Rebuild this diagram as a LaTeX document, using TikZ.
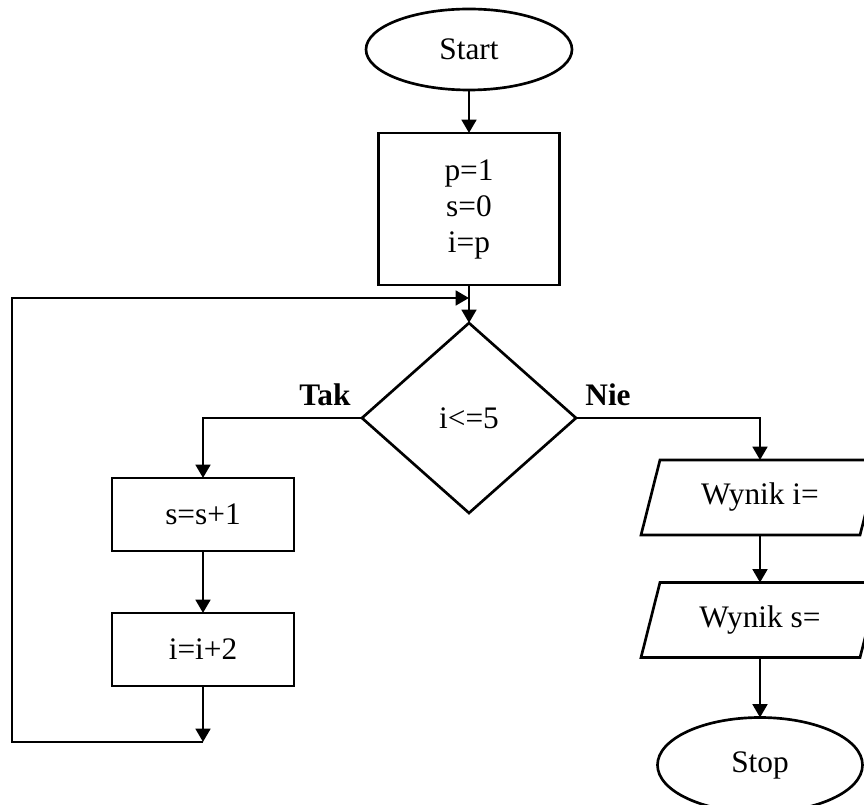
\documentclass[tikz,border=0pt]{standalone}
\usepackage{fontspec}
\setmainfont{Liberation Serif}
\usetikzlibrary{shapes.geometric,arrows.meta}

\begin{document}
\begin{tikzpicture}[x=0.75pt,y=-0.75pt,line width=2pt]
    \tikzstyle{every node}=[font=\fontsize{23.5pt}{27pt}\selectfont,inner sep=0pt,outer sep=0pt]
    \tikzstyle{term}=[draw,ellipse]
    \tikzstyle{proc}=[draw,rectangle,align=center,minimum width=136.5pt,minimum height=54.75pt]
    \tikzstyle{io}=[rectangle,minimum width=164.25pt,minimum height=56.25pt]
    \tikzstyle{arr}=[-{Triangle[length=10pt,width=11pt]}]
    \useasboundingbox (0,0) rectangle (864,805);
    % draw the blocks
    \node[term,minimum width=154.5pt,minimum height=60.75pt] (start) at (469,49.5) {Start};
    \node[proc,minimum width=135.75pt,minimum height=114pt] (init) at (469,209) {p=1\\s=0\\i=p};
    \node[draw,diamond,minimum width=160.5pt,minimum height=142.5pt] (cond) at (469,418) {i<=5};
    \node[proc] (incs) at (203,514.5) {s=s+1};
    \node[proc] (inci) at (203,649.5) {i=i+2};
    \node[io] (outi) at (760,497.5) {Wynik i=};
    \node[io] (outs) at (760,620) {Wynik s=};
    \node[term,minimum width=153.75pt,minimum height=71.25pt] (stop) at (760,765) {Stop};
    \foreach \n in {outi,outs}
        \draw ([xshift=-7.1pt]\n.south west) -- ([xshift=7.1pt]\n.north west) -- ([xshift=7.1pt]\n.north east) -- ([xshift=-7.1pt]\n.south east) -- cycle;
    \coordinate (loopin) at (469,298);
    \coordinate (loopbot) at (203,742);
    % draw the connectors
    \draw[arr] (start) -- (init);
    \draw[arr] (init) -- (cond);
    \draw[arr] (cond.west) -| (incs);
    \draw[arr] (incs) -- (inci);
    \draw[arr] (inci) -- (loopbot);
    \draw[arr] (loopbot) -- (12,742) -- (12,298) -- (loopin);
    \draw[arr] (cond.east) -| (outi);
    \draw[arr] (outi) -- (outs);
    \draw[arr] (outs) -- (stop);
    % draw labels
    \node[font=\fontsize{23.5pt}{27pt}\selectfont\bfseries] (tak) at (325,395) {Tak};
    \node[font=\fontsize{23.5pt}{27pt}\selectfont\bfseries] (nie) at (608,395) {Nie};
\end{tikzpicture}
\end{document}
